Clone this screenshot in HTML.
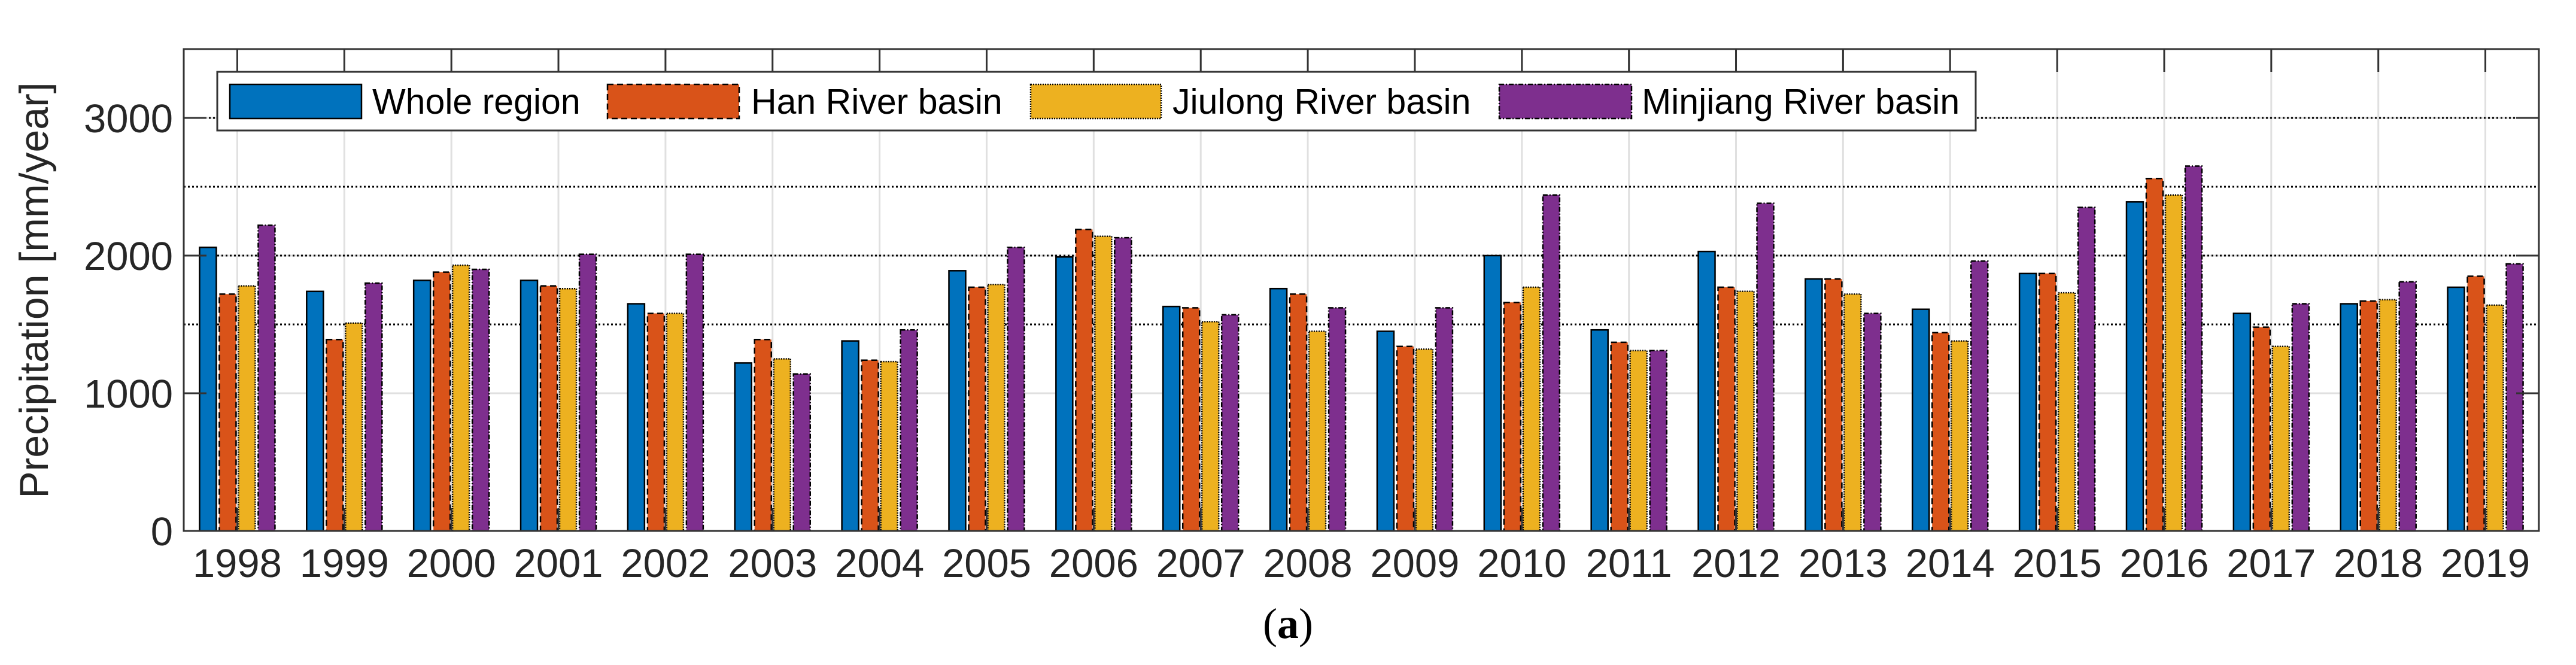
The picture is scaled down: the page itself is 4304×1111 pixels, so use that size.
<!DOCTYPE html>
<html><head><meta charset="utf-8"><style>
html,body{margin:0;padding:0;background:#fff;}
svg{display:block;font-family:"Liberation Sans",Arial,sans-serif;}
</style></head><body>
<svg id="chart" width="4304" height="1111" viewBox="0 0 4304 1111" xmlns="http://www.w3.org/2000/svg">
<g id="grid"></g>
<g id="bars"></g>
<g id="axes"></g>
<g id="legend">
  <rect x="363" y="120" width="2938" height="98" fill="#fff" stroke="#333" stroke-width="3"/>
  <rect x="384" y="141" width="220" height="57" fill="#0072BD" stroke="#000" stroke-width="2.5"/>
  <text x="622" y="190" font-size="59">Whole region</text>
  <rect x="1015" y="141" width="220" height="57" fill="#D95319" stroke="#000" stroke-width="2.5" stroke-dasharray="10,6"/>
  <text x="1255" y="190" font-size="59">Han River basin</text>
  <rect x="1722" y="141" width="218" height="57" fill="#EDB120" stroke="#000" stroke-width="2.5" stroke-dasharray="2,2"/>
  <text x="1959" y="190" font-size="59">Jiulong River basin</text>
  <rect x="2505" y="141" width="221" height="57" fill="#7E2F8E" stroke="#000" stroke-width="2.5" stroke-dasharray="8,3,2,3"/>
  <text x="2743" y="190" font-size="59">Minjiang River basin</text>
</g>
<text transform="translate(80,485) rotate(-90)" text-anchor="middle" font-size="68" fill="#262626">Precipitation [mm/year]</text>
<text x="2152" y="1066" text-anchor="middle" font-size="72" font-family="Liberation Serif,serif" fill="#000">(<tspan font-weight="bold">a</tspan>)</text>
</svg>
<script>
const years = [1998,1999,2000,2001,2002,2003,2004,2005,2006,2007,2008,2009,2010,2011,2012,2013,2014,2015,2016,2017,2018,2019];
const wholeRegion = [2060,1740,1820,1820,1650,1220,1380,1890,1990,1630,1760,1450,2000,1460,2030,1830,1610,1870,2390,1580,1650,1770];
const hanRiver = [1720,1390,1880,1780,1580,1390,1240,1770,2190,1620,1720,1340,1660,1370,1770,1830,1440,1870,2560,1480,1670,1850];
const jiulongRiver = [1780,1510,1930,1760,1580,1250,1230,1790,2140,1520,1450,1320,1770,1310,1740,1720,1380,1730,2440,1340,1680,1640];
const minjiangRiver = [2220,1800,1900,2010,2010,1140,1460,2060,2130,1570,1620,1620,2440,1310,2380,1580,1960,2350,2650,1650,1810,1940];
const yTicks = [0,1000,2000,3000];
const dottedLines = [1500,2000,2500,3000];

const NS='http://www.w3.org/2000/svg';
const L=307,R=4242,T=82,B=887;
const xMin=years[0]-0.5,xMax=years[years.length-1]+0.5,yMax=3500;
const xs=v=>L+(v-xMin)/(xMax-xMin)*(R-L);
const ys=v=>B-v/yMax*(B-T);
function mk(tag,attrs,parent){const e=document.createElementNS(NS,tag);for(const k in attrs)e.setAttribute(k,attrs[k]);parent.appendChild(e);return e;}
const grid=document.getElementById('grid'),bars=document.getElementById('bars'),axes=document.getElementById('axes');

years.forEach(y=>{
  const l=mk('line',{x1:xs(y),x2:xs(y),y1:T,y2:B,stroke:'#e0e0e0','stroke-width':3},grid);
  
  
});
yTicks.forEach(v=>{
  const l=mk('line',{x1:L,x2:R,y1:ys(v),y2:ys(v),stroke:'#e0e0e0','stroke-width':3},grid);
  
  
});
dottedLines.forEach(v=>{
  const l=mk('line',{x1:L,x2:R,y1:ys(v),y2:ys(v),stroke:'#000','stroke-width':3,'stroke-dasharray':'3,4'},grid);
  
  
});

const series=[
  {d:wholeRegion,c:'#0072BD',dash:'',n:'whole-region'},
  {d:hanRiver,c:'#D95319',dash:'10,6',n:'han-river'},
  {d:jiulongRiver,c:'#EDB120',dash:'2,2',n:'jiulong-river'},
  {d:minjiangRiver,c:'#7E2F8E',dash:'8,3,2,3',n:'minjiang-river'}
];
const offs=[-49,-16,16,49],bw=28;
series.forEach((s,si)=>{
  s.d.forEach((v,i)=>{
    const cx=xs(years[i])+offs[si];
    const r=mk('rect',{x:cx-bw/2,y:ys(v),width:bw,height:B-ys(v),fill:s.c,stroke:'#000','stroke-width':2.5},bars);
    if(s.dash)r.setAttribute('stroke-dasharray',s.dash);
    
    
  });
});

const box=mk('rect',{x:L,y:T,width:R-L,height:B-T,fill:'none',stroke:'#333','stroke-width':3},axes);


years.forEach(y=>{
  mk('line',{x1:xs(y),x2:xs(y),y1:T,y2:T+38,stroke:'#333','stroke-width':3},axes);
  mk('line',{x1:xs(y),x2:xs(y),y1:B,y2:B-38,stroke:'#333','stroke-width':3},axes);
  const t=mk('text',{x:xs(y),y:B+77,'text-anchor':'middle','font-size':67,fill:'#262626'},axes);
  t.textContent=y;
  
  
});
yTicks.forEach(v=>{
  mk('line',{x1:L,x2:L+38,y1:ys(v),y2:ys(v),stroke:'#333','stroke-width':3},axes);
  mk('line',{x1:R,x2:R-38,y1:ys(v),y2:ys(v),stroke:'#333','stroke-width':3},axes);
  const t=mk('text',{x:L-18,y:ys(v)+24,'text-anchor':'end','font-size':67,fill:'#262626'},axes);
  t.textContent=v;
  
  
});
</script>
</body></html>
